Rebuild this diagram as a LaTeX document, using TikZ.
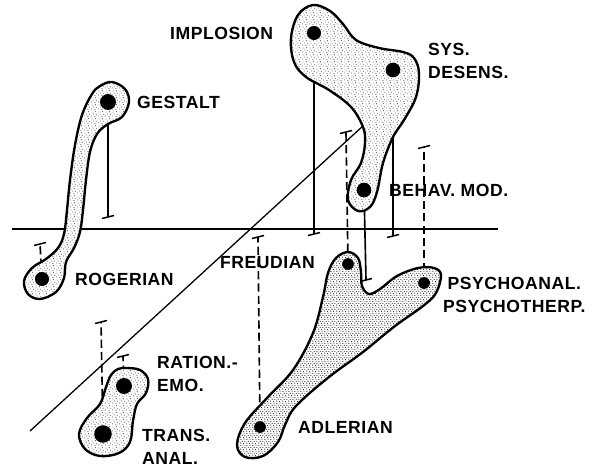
\documentclass[tikz,border=0pt]{standalone}
\usepackage{fontspec}
\newfontfamily\lettering{Liberation Sans}[LetterSpace=3]
\usetikzlibrary{patterns}

\pgfdeclarepatternformonly{stipple}{\pgfpointorigin}{\pgfqpoint{6pt}{6pt}}{\pgfqpoint{6pt}{6pt}}{%
  \pgfpathcircle{\pgfqpoint{0.7pt}{1.0pt}}{0.45pt}
  \pgfpathcircle{\pgfqpoint{3.8pt}{0.4pt}}{0.42pt}
  \pgfpathcircle{\pgfqpoint{2.2pt}{2.9pt}}{0.45pt}
  \pgfpathcircle{\pgfqpoint{5.1pt}{2.6pt}}{0.4pt}
  \pgfpathcircle{\pgfqpoint{1.0pt}{4.8pt}}{0.42pt}
  \pgfpathcircle{\pgfqpoint{4.2pt}{5.1pt}}{0.45pt}
  \pgfusepath{fill}}
\pgfdeclarepatternformonly{stippledense}{\pgfpointorigin}{\pgfqpoint{5pt}{5pt}}{\pgfqpoint{5pt}{5pt}}{%
  \pgfpathcircle{\pgfqpoint{0.6pt}{0.8pt}}{0.5pt}
  \pgfpathcircle{\pgfqpoint{3.1pt}{0.3pt}}{0.45pt}
  \pgfpathcircle{\pgfqpoint{1.9pt}{2.4pt}}{0.5pt}
  \pgfpathcircle{\pgfqpoint{4.3pt}{2.2pt}}{0.45pt}
  \pgfpathcircle{\pgfqpoint{0.8pt}{4.0pt}}{0.45pt}
  \pgfpathcircle{\pgfqpoint{3.5pt}{4.3pt}}{0.5pt}
  \pgfusepath{fill}}

\begin{document}
\begin{tikzpicture}[x=0.03cm,y=-0.03cm,
  spot/.style={circle,fill=black,inner sep=0pt,minimum size=#1},
  lbl/.style={anchor=west,inner sep=0pt,align=left,
    font=\lettering\bfseries\fontsize{15}{19.5}\selectfont},
  blob/.style={line width=2pt,preaction={fill=white},pattern=stipple},
  stem/.style={line width=1.4pt},
  stemdash/.style={line width=1.4pt,dash pattern=on 7pt off 3.5pt},
  basemark/.pic={\draw[line width=1.3pt] (-6,1.5) -- (6,-1.5);}]
\useasboundingbox (0,0) rectangle (592,467);

\coordinate (plane-w) at (12,229);
\coordinate (plane-e) at (498,229);
\coordinate (diag-s) at (30,431);
\coordinate (diag-n) at (364,125);
\draw[line width=1.1pt] (plane-w) -- (plane-e);
\draw[line width=1.1pt] (diag-s) -- (diag-n);

\coordinate (gestalt) at (108,102);
\coordinate (rogerian) at (42,279);
\coordinate (implosion) at (314,33);
\coordinate (sysdes) at (393,70);
\coordinate (behav) at (364,190);
\coordinate (freudian) at (348,264);
\coordinate (psychoan) at (424,283);
\coordinate (adlerian) at (260,427);
\coordinate (ratemo) at (124,386);
\coordinate (transan) at (103,434);

\coordinate (gestalt-b) at (108,217);
\coordinate (rogerian-b) at (40,244);
\coordinate (implosion-b) at (314,234);
\coordinate (sysdes-b) at (393,236);
\coordinate (behav-b) at (366,280);
\coordinate (freudian-b) at (346,132);
\coordinate (psychoan-b) at (424,147);
\coordinate (adlerian-b) at (258,237);
\coordinate (ratemo-b) at (123,356);
\coordinate (transan-b) at (101,322);

\draw[stem] (gestalt) -- (gestalt-b);
\draw[stem] (implosion) -- (implosion-b);
\draw[stem] (sysdes) -- (sysdes-b);
\draw[stem] (behav) -- (behav-b);
\draw[stemdash] (rogerian) -- (rogerian-b);
\draw[stemdash] (freudian) -- (freudian-b);
\draw[stemdash] (psychoan) -- (psychoan-b);
\draw[stemdash] (adlerian) -- (adlerian-b);
\draw[stemdash] (ratemo) -- (ratemo-b);
\draw[stemdash] (transan) -- (transan-b);
\foreach \b in {gestalt,rogerian,implosion,sysdes,behav,freudian,psychoan,adlerian,ratemo,transan}
  \pic at (\b-b) {basemark};

\draw[blob] plot[smooth cycle,tension=0.6] coordinates {
  (112,82) (125,89) (129,102) (122,117) (108,124) (97,134) (90,152) (86,180)
  (83,210) (80,232) (74,248) (66,262) (64,278) (56,292) (40,299) (28,294)
  (24,281) (32,268) (46,259) (58,248) (64,234) (67,210) (70,180) (75,145)
  (82,115) (92,94) (100,86)};

\draw[blob] plot[smooth cycle,tension=0.6] coordinates {
  (313,5) (330,11) (343,24) (356,40) (379,48) (403,52) (414,58) (419,73)
  (416,97) (404,120) (393,137) (383,163) (377,192) (370,207) (358,211)
  (348,200) (351,180) (361,163) (365,143) (363,127) (351,107) (329,90)
  (306,77) (294,62) (291,38) (298,15)};

\draw[blob,pattern=stippledense] plot[smooth cycle,tension=0.6] coordinates {
  (348,252) (358,258) (361,272) (362,286) (369,294) (380,289) (397,276)
  (418,268) (434,268) (441,275) (436,293) (423,306) (395,326) (363,352)
  (329,377) (296,406) (285,425) (278,442) (263,456) (245,457) (237,445)
  (245,423) (267,398) (293,370) (313,333) (323,297) (328,273) (336,258)};

\draw[blob] plot[smooth cycle,tension=0.6] coordinates {
  (127,368) (140,370) (148,379) (146,393) (137,404) (133,421) (130,442)
  (119,453) (100,456) (85,449) (79,434) (87,418) (100,404) (106,387)
  (111,375) (118,369)};

\node[spot=13.6pt] (gestalt-d) at (gestalt) {};
\node[spot=12pt] (rogerian-d) at (rogerian) {};
\node[spot=12pt] (implosion-d) at (implosion) {};
\node[spot=12.5pt] (sysdes-d) at (sysdes) {};
\node[spot=12.5pt] (behav-d) at (behav) {};
\node[spot=10pt] (freudian-d) at (freudian) {};
\node[spot=10pt] (psychoan-d) at (psychoan) {};
\node[spot=10pt] (adlerian-d) at (adlerian) {};
\node[spot=13.6pt] (ratemo-d) at (ratemo) {};
\node[spot=15pt] (transan-d) at (transan) {};

\node[lbl] (implosion-l) at (170,33) {IMPLOSION};
\node[lbl] (gestalt-l) at (137,102) {GESTALT};
\node[lbl] (sysdes-l) at (428,61) {SYS.\\DESENS.};
\node[lbl] (behav-l) at (389,190) {BEHAV.\ MOD.};
\node[lbl] (rogerian-l) at (75,279) {ROGERIAN};
\node[lbl] (freudian-l) at (220,263) {FREUDIAN};
\node[lbl,align=center] (psychoan-l) at (443,295) {PSYCHOANAL.\\PSYCHOTHERP.};
\node[lbl] (ratemo-l) at (157,374) {RATION.-\\EMO.};
\node[lbl] (transan-l) at (142,447) {TRANS.\\ANAL.};
\node[lbl] (adlerian-l) at (298,427) {ADLERIAN};
\end{tikzpicture}
\end{document}
